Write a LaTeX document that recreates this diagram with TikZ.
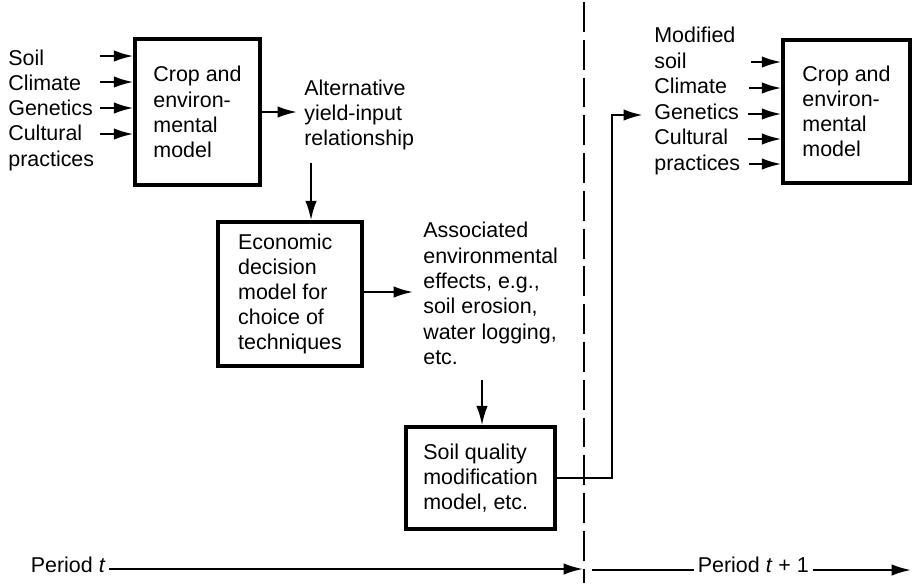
\documentclass[tikz,border=0pt]{standalone}
\usepackage{fontspec}
\setmainfont{Liberation Sans}
\usetikzlibrary{arrows.meta}

\tikzset{
  box/.style={draw, line width=2pt, align=left, inner sep=0pt},
  lbl/.style={anchor=base west, inner sep=0pt},
  arr/.style={-{Latex[length=11pt,width=6.5pt]}, line width=1.2pt},
  divider/.style={line width=0.9pt, dash pattern=on 17pt off 4.5pt},
}

\begin{document}
\begin{tikzpicture}[x=0.02cm, y=-0.02cm, font=\fontsize{12.2pt}{14.3pt}\selectfont]
  \useasboundingbox (0,0) rectangle (913,583);

  % period t: first model
  \node[box, minimum width=2.5cm, minimum height=2.92cm] (crop) at (197.5,112) {Crop and\\environ-\\mental\\model};
  \node[lbl] (soil) at (8,65) {Soil};
  \node[lbl] (climate) at (8,90) {Climate};
  \node[lbl] (genetics) at (8,115) {Genetics};
  \node[lbl] (cult) at (8,140) {Cultural};
  \node[lbl] (pract) at (8,166) {practices};
  \coordinate (in1) at (100,56);
  \coordinate (in2) at (100,82);
  \coordinate (in3) at (100,108);
  \coordinate (in4) at (100,134);
  \draw[arr] (in1) -- (in1 -| crop.west);
  \draw[arr] (in2) -- (in2 -| crop.west);
  \draw[arr] (in3) -- (in3 -| crop.west);
  \draw[arr] (in4) -- (in4 -| crop.west);

  \node[lbl] (alt1) at (304,95) {Alternative};
  \node[lbl] (alt2) at (304,120) {yield-input};
  \node[lbl] (alt3) at (304,145) {relationship};
  \coordinate (altin) at (297,112);
  \coordinate (altout) at (311,163);
  \draw[arr] (crop.east) -- (altin);

  \node[box, minimum width=2.88cm, minimum height=2.88cm] (econ) at (290,294) {Economic\\decision\\model for\\choice of\\techniques};
  \draw[arr] (altout) -- (altout |- econ.north);

  \node[lbl] (eff1) at (423,237) {Associated};
  \node[lbl] (eff2) at (423,263) {environmental};
  \node[lbl] (eff3) at (423,288) {effects, e.g.,};
  \node[lbl] (eff4) at (423,313) {soil erosion,};
  \node[lbl] (eff5) at (423,339) {water logging,};
  \node[lbl] (eff6) at (423,364) {etc.};
  \coordinate (effin) at (413,292);
  \coordinate (effout) at (482,380);
  \draw[arr] (econ.east |- effin) -- (effin);

  \node[box, minimum width=2.98cm, minimum height=2.04cm] (soilq) at (480.5,478) {Soil quality\\modification\\model, etc.};
  \draw[arr] (effout) -- (effout |- soilq.north);

  % period t+1: second model
  \node[box, minimum width=2.54cm, minimum height=2.86cm] (crop2) at (846.5,111.5) {Crop and\\environ-\\mental\\model};
  \node[lbl] (modif) at (654,42) {Modified};
  \node[lbl] (msoil) at (654,68) {soil};
  \node[lbl] (climate2) at (654,93) {Climate};
  \node[lbl] (genetics2) at (654,119) {Genetics};
  \node[lbl] (cult2) at (654,144) {Cultural};
  \node[lbl] (pract2) at (654,170) {practices};
  \coordinate (rin1) at (751,62);
  \coordinate (rin2) at (749,88);
  \coordinate (rin3) at (748,114);
  \coordinate (rin4) at (748,139);
  \coordinate (rin5) at (749,164);
  \draw[arr] (rin1) -- (rin1 -| crop2.west);
  \draw[arr] (rin2) -- (rin2 -| crop2.west);
  \draw[arr] (rin3) -- (rin3 -| crop2.west);
  \draw[arr] (rin4) -- (rin4 -| crop2.west);
  \draw[arr] (rin5) -- (rin5 -| crop2.west);

  % feedback of modified soil
  \coordinate (bend) at (612,115);
  \coordinate (genin) at (643,115);
  \draw[arr, line width=1.5pt] (soilq.east) -| (bend) -- (genin);

  % time axis
  \draw[divider] (584,2) -- (584,583);
  \node[lbl, inner xsep=2pt] (pt) at (27,572) {Period \textit{t}};
  \coordinate (tend) at (583,569);
  \draw[arr] (pt.east |- tend) -- (tend);
  \node[lbl, inner xsep=2pt] (pt1) at (694,572) {Period \textit{t} + 1};
  \coordinate (t1start) at (592,570);
  \coordinate (t1end) at (911,570);
  \draw[line width=1.2pt] (t1start) -- (t1start -| pt1.west);
  \draw[arr] (pt1.east |- t1end) -- (t1end);
\end{tikzpicture}
\end{document}
